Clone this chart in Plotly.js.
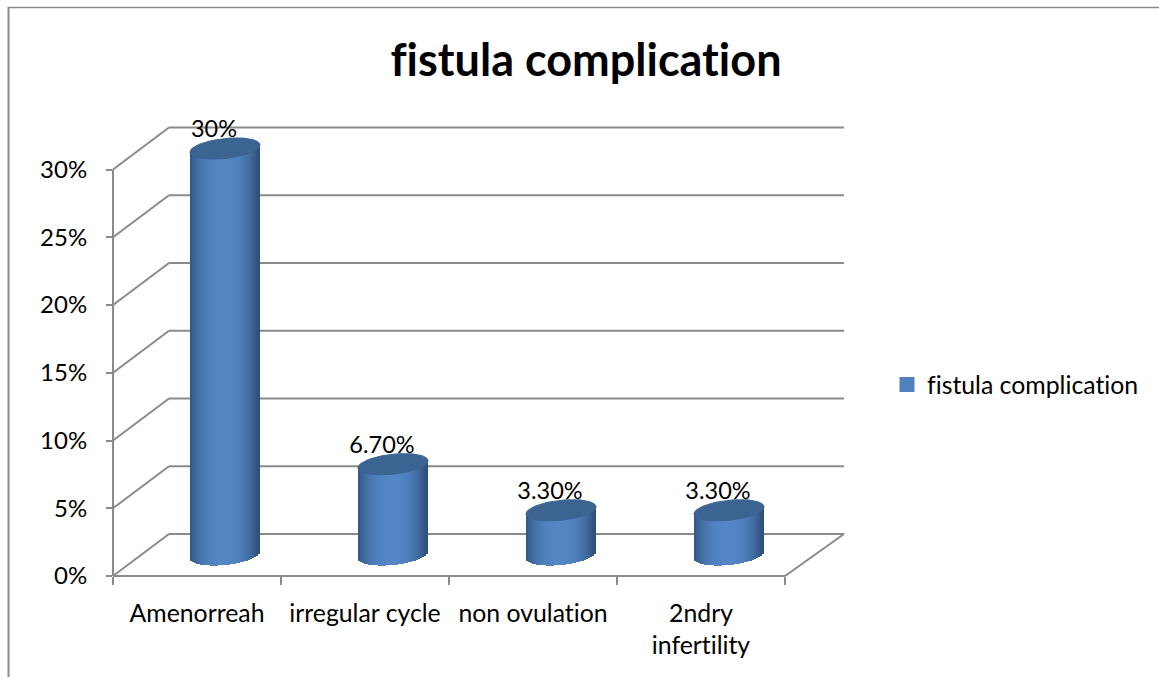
<!DOCTYPE html>
<html><head><meta charset="utf-8">
<script src="https://cdn.plot.ly/plotly-3.0.1.min.js"></script>
<style>html,body{margin:0;padding:0;background:#fff}#c{width:1159px;height:677px}text{font-variant-ligatures:none;font-feature-settings:"liga" 0}</style>
</head><body><div id="c"></div>
<script>
const categories = ['Amenorreah','irregular cycle','non ovulation','2ndry<br>infertility'];
const values = [30, 6.7, 3.3, 3.3];
const valueLabels = ['30%','6.70%','3.30%','3.30%'];
const seriesName = 'fistula complication';
const yTicks = [0,5,10,15,20,25,30];

const W=1159,H=677,L=113,R=845,T=127,B=576;
const pxX=168, pxY=13.55;
const xMin=-0.5, xMax=xMin+(R-L)/pxX, yMax=(B-T)/pxY;
const positions = categories.map((_,i)=>i);

// cylinder geometry (in pixels, converted to axis units)
const cx=28/pxX, ax=35/pxX, floorY=21/pxY, bY=10/pxY, tilt=3.5/pxY;
const N=35, sw=2*ax/N;
function mix(a,b,t){return a.map((v,i)=>Math.round(v+(b[i]-v)*t));}
function sideColor(u){ // u in -1..1
  const edge=[46,80,122], mid=[84,134,198];
  const t=Math.pow(Math.abs(u+0.05),2.4);
  const c=mix(mid,edge,Math.min(1,t));
  return 'rgb('+c.join(',')+')';
}
const traces=[];
// series trace (legend entry), hidden behind the cylinder sides
traces.push({type:'bar',name:seriesName,x:positions.map(p=>p+cx),y:values,base:values.map(()=>floorY),
  width:1/pxX,marker:{color:'#4f81bd',line:{color:'#4f81bd',width:3}},showlegend:true,hoverinfo:'skip'});
for(let k=0;k<N;k++){
  const u=((k+0.5)/N)*2-1;
  const e=bY*Math.sqrt(1-u*u), tl=tilt*u;
  traces.push({type:'bar',x:positions.map(p=>p+cx+u*ax),
    y:values.map(v=>v+e),base:values.map(()=>floorY+tl-e),width:sw*1.05,
    marker:{color:sideColor(u),line:{width:0}},showlegend:false,hoverinfo:'skip'});
}
// cylinder caps
values.forEach((v,i)=>{
  const xs=[],ys=[];
  for(let a=0;a<=72;a++){const th=a/72*2*Math.PI,u=Math.cos(th);
    xs.push(i+cx+ax*u);ys.push(v+floorY+tilt*u+bY*Math.sin(th));}
  traces.push({type:'scatter',mode:'lines',x:xs,y:ys,fill:'toself',fillcolor:'#3b6492',
    line:{color:'#3b6492',width:1},showlegend:false,hoverinfo:'skip'});
});
// data labels
traces.push({type:'scatter',mode:'text',x:positions.map(p=>p+cx-11/pxX),
  y:values.map(v=>v+floorY+17/pxY),text:valueLabels,textposition:'middle center',
  textfont:{family:'Lato',size:23.5,color:'#000'},cliponaxis:false,showlegend:false,hoverinfo:'skip'});

// wall and floor grid, built from the tick values
const px=x=>(x-L)/(R-L), py=y=>(B-y)/(B-T);
const vy=v=>B-v*pxY;
const grey='#8a8a8a';
const ln=(x0,y0,x1,y1,w)=>({type:'line',xref:'paper',yref:'paper',layer:'below',x0:px(x0),y0:py(y0),x1:px(x1),y1:py(y1),line:{color:grey,width:w||2}});
const shapes=[];
yTicks.forEach(v=>{
  shapes.push(ln(113,vy(v),169,vy(v)-42));
  shapes.push(ln(169,vy(v)-42,844,vy(v)-42));
});
shapes.push(ln(113,vy(0),113,vy(30)));
shapes.push(ln(113,B,785,B));
shapes.push(ln(785,B,844,B-42));
// outer frame (top and left edges only)
shapes.push(ln(8,7.5,W,7.5,1.5));
shapes.push(ln(8.5,7,8.5,H,2));

const fontY={family:'Lato',size:24,color:'#000'};
const fontX={family:'Lato',size:24.8,color:'#000'};
const layout={
  width:W,height:H,autosize:false,paper_bgcolor:'#fff',plot_bgcolor:'rgba(0,0,0,0)',
  margin:{l:L,r:W-R,t:T,b:H-B,pad:0},
  barmode:'overlay',bargap:0,
  title:{text:'<b>fistula complication</b>',x:586/W,xanchor:'center',y:1-60/H,yanchor:'middle',
    font:{family:'Lato',size:45,color:'#000'}},
  xaxis:{type:'linear',range:[xMin,xMax],tickmode:'array',tickvals:positions,ticktext:categories,
    ticks:'outside',ticklen:15,tickcolor:'rgba(0,0,0,0)',tickfont:fontX,showgrid:false,zeroline:false,showline:false,
    minor:{tickmode:'array',tickvals:[-0.5,0.5,1.5,2.5,3.5],ticks:'outside',ticklen:8,tickwidth:2,tickcolor:grey,showgrid:false}},
  yaxis:{range:[0,yMax],tickmode:'array',tickvals:yTicks,ticktext:yTicks.map(v=>v+'%'),
    ticks:'outside',ticklen:6,tickwidth:2,tickcolor:grey,tickfont:fontY,ticklabelstandoff:14,showgrid:false,zeroline:false,showline:false},
  legend:{x:px(887),xanchor:'left',y:py(385),yanchor:'middle',bgcolor:'rgba(0,0,0,0)',font:fontX,borderwidth:0},
  shapes:shapes,showlegend:true
};
Plotly.newPlot('c',traces,layout,{displayModeBar:false,staticPlot:true});
</script></body></html>
